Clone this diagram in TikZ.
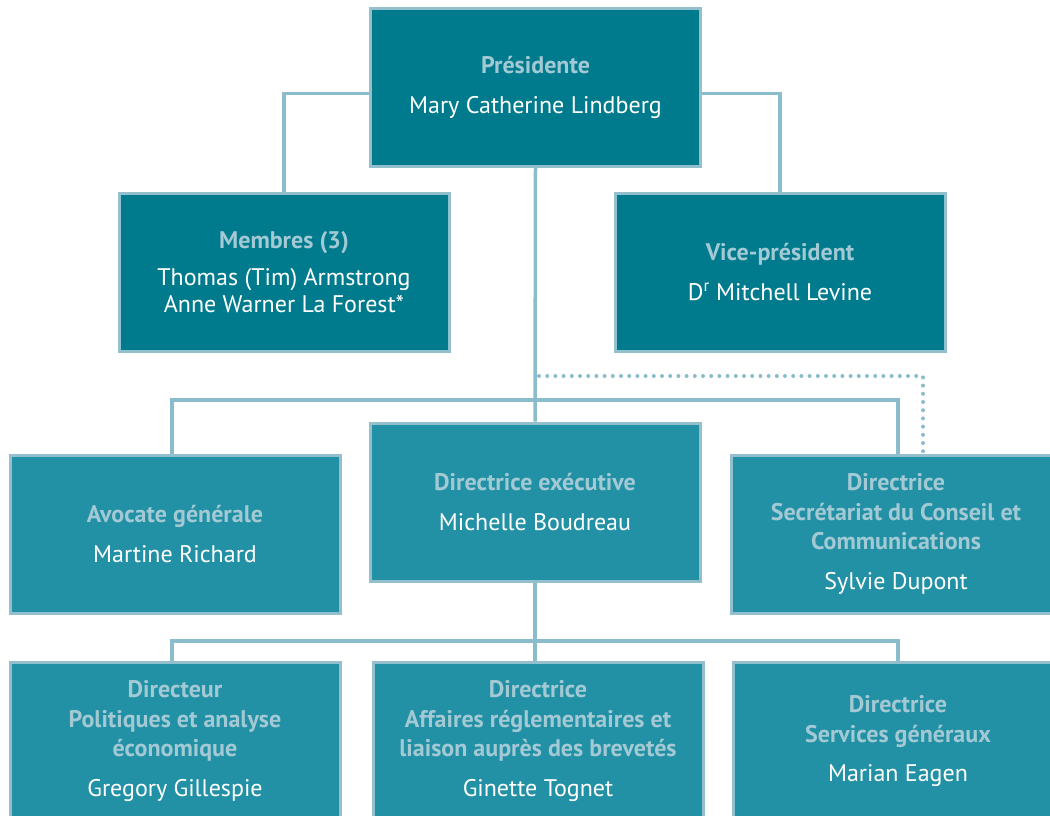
\documentclass[tikz,border=0pt]{standalone}
\usepackage{fontspec}
\setmainfont{PT Sans}
\usetikzlibrary{backgrounds}
\definecolor{darkbox}{HTML}{007B8D}
\definecolor{lightbox}{HTML}{2391A5}
\definecolor{edgecol}{HTML}{94C0CD}
\definecolor{titlecol}{HTML}{A2C9D4}
\definecolor{linecol}{HTML}{8BBCCB}
\tikzset{
  box/.style={draw=edgecol, line width=3pt, minimum width=330pt, minimum height=158pt,
    inner sep=0pt, align=center, text=white, font=\fontsize{24}{29.5}\selectfont},
  topbox/.style={box, fill=darkbox},
  lowbox/.style={box, fill=lightbox},
  conn/.style={draw=linecol, line width=3.5pt},
  dotconn/.style={draw=linecol, line width=4pt, line cap=round, dash pattern=on 0pt off 8.2pt},
}
\newcommand{\ttl}[1]{{\bfseries\color{titlecol}#1}}
\begin{document}
\begin{tikzpicture}[x=1pt,y=-1pt]
\useasboundingbox (0,0) rectangle (1050,815);
\clip (0,0) rectangle (1050,815);
\coordinate (bus1) at (535,400);
\coordinate (bus2) at (535,641);
\coordinate (dotstart) at (539,376);
\coordinate (dotcorner) at (923,376);
\coordinate (dotend) at (923,453);
\node[topbox] (pres) at (535.5,87.5) {\ttl{Présidente}\\[10pt] Mary Catherine Lindberg};
\node[topbox] (mem) at (284,272) {\ttl{Membres (3)}\\[8pt] Thomas (Tim) Armstrong\\[-3pt] Anne Warner La Forest*};
\node[topbox] (vice) at (780,272) {\ttl{Vice-président}\\[10pt] D\textsuperscript{r} Mitchell Levine};
\node[lowbox] (de) at (535,502) {\ttl{Directrice exécutive}\\[10pt] Michelle Boudreau};
\node[lowbox] (avo) at (175,534) {\ttl{Avocate générale}\\[10pt] Martine Richard};
\node[lowbox] (sec) at (896,534) {\ttl{Directrice}\\ \ttl{Secrétariat du Conseil et}\\ \ttl{Communications}\\[10pt] Sylvie Dupont};
\node[lowbox] (pol) at (175,741) {\ttl{Directeur}\\ \ttl{Politiques et analyse}\\ \ttl{économique}\\[10pt] Gregory Gillespie};
\node[lowbox] (aff) at (538,741) {\ttl{Directrice}\\ \ttl{Affaires réglementaires et}\\ \ttl{liaison auprès des brevetés}\\[10pt] Ginette Tognet};
\node[lowbox] (srv) at (898,741) {\ttl{Directrice}\\ \ttl{Services généraux}\\[10pt] Marian Eagen};
\begin{scope}[on background layer]
\draw[conn] ([yshift=-6pt]pres.west) -| (mem.north);
\draw[conn] ([yshift=-6pt]pres.east) -| (vice.north);
\draw[conn] (pres.south) -- (de.north);
\draw[conn] (avo.north -| 172,0) |- (bus1) -| (sec.north -| 898,0);
\draw[dotconn] (dotstart) -- (dotcorner) -- (dotend);
\draw[conn] (de.south) -- (aff.north -| de.south);
\draw[conn] (pol.north -| 172,0) |- (bus2) -| (srv.north);
\end{scope}
\end{tikzpicture}
\end{document}
